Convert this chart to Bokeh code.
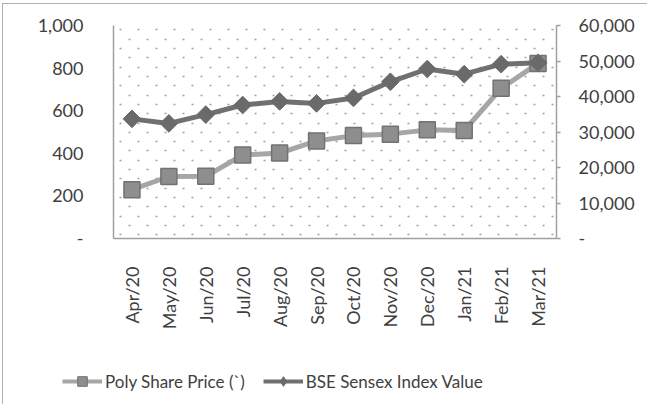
import numpy as np
from bokeh.plotting import figure
from bokeh.models import (Range1d, LinearAxis, FixedTicker, NumeralTickFormatter,
                          Legend, LegendItem, ColumnDataSource, Grid)
from bokeh.embed import file_html
from bokeh.resources import INLINE

months = ["Apr/20", "May/20", "Jun/20", "Jul/20", "Aug/20", "Sep/20",
          "Oct/20", "Nov/20", "Dec/20", "Jan/21", "Feb/21", "Mar/21"]
poly_price = [229, 291, 292, 392, 401, 458, 483, 490, 510, 507, 705, 822]
sensex = [33700, 32420, 34900, 37600, 38620, 38060, 39600, 44150, 47750, 46280, 49100, 49500]
left_ticks = [0, 200, 400, 600, 800, 1000]
right_ticks = [0, 10000, 20000, 30000, 40000, 50000, 60000]
series_names = ["Poly Share Price (`)", "BSE Sensex Index Value"]

TEXT = "#404040"
FONT = "Lato"
AXIS = "#a0a0a0"
POLY_LINE, POLY_FILL, POLY_EDGE = "#a6a6a6", "#8e8e8e", "#727272"
SX_LINE, SX_FILL = "#707070", "#6a6a6a"

p = figure(x_range=months, y_range=Range1d(0, 1000), width=645, height=340,
           output_backend="svg", toolbar_location=None,
           min_border_left=110, min_border_right=92, min_border_top=21,
           min_border_bottom=106)
p.styles = {"margin-left": "2px", "margin-top": "3px",
            "border-left": "1px solid #b0b0b0", "border-top": "1px solid #b0b0b0"}
p.outline_line_color = None
p.background_fill_color = "white"
p.border_fill_color = "white"
p.extra_y_ranges = {"right": Range1d(0, 60000)}

p.xgrid.visible = False
p.ygrid.visible = False

# dotted texture (staggered rows)
rows = np.arange(17, 1000, 43.76)
for k0, off in ((0, 12), (1, 3)):
    g = Grid(dimension=1, ticker=FixedTicker(ticks=list(rows[(22 - k0) % 2::2])),
             grid_line_color="#a0a0a0", grid_line_width=1.7,
             grid_line_dash="2 16", grid_line_dash_offset=off)
    p.add_layout(g)

# left axis
ya = p.yaxis[0]
ya.ticker = FixedTicker(ticks=left_ticks)
ya.formatter = NumeralTickFormatter(format="0,0")
ya.major_label_overrides = {0: "-"}
ya.major_tick_line_color = None
ya.minor_tick_line_color = None
ya.axis_line_color = AXIS
ya.axis_line_width = 1.5
ya.major_label_standoff = 24
ya.major_label_text_font = FONT
ya.major_label_text_font_size = "18px"
ya.major_label_text_color = TEXT

# right axis
ra = LinearAxis(y_range_name="right", ticker=FixedTicker(ticks=right_ticks),
                formatter=NumeralTickFormatter(format="0,0"))
ra.major_label_overrides = {0: "-"}
ra.major_tick_line_color = AXIS
ra.major_tick_line_width = 1.5
ra.major_tick_out = 4
ra.major_tick_in = 0
ra.minor_tick_line_color = None
ra.axis_line_color = AXIS
ra.axis_line_width = 1.5
ra.major_label_standoff = 18
ra.major_label_text_font = FONT
ra.major_label_text_font_size = "18px"
ra.major_label_text_color = TEXT
p.add_layout(ra, "right")

# x axis
xa = p.xaxis[0]
xa.major_label_orientation = np.pi / 2
xa.major_tick_line_color = None
xa.minor_tick_line_color = None
xa.axis_line_color = AXIS
xa.axis_line_width = 1.5
xa.major_label_standoff = 22
xa.major_label_text_font = FONT
xa.major_label_text_font_size = "18px"
xa.major_label_text_color = TEXT

src = ColumnDataSource(dict(m=months, poly=poly_price, sx=sensex))

p.line("m", "poly", source=src, line_color=POLY_LINE, line_width=5)
p.scatter("m", "poly", source=src, marker="square", size=16,
          fill_color=POLY_FILL, line_color=POLY_EDGE, line_width=1.5)
p.line("m", "sx", source=src, y_range_name="right", line_color=SX_LINE, line_width=5)
p.scatter("m", "sx", source=src, y_range_name="right", marker="square", angle=np.pi / 4,
          size=12.5, fill_color=SX_FILL, line_color=SX_FILL, line_width=1)

# legend strip (separate root below the chart)
q = figure(width=645, height=61, x_range=Range1d(0, 1), y_range=Range1d(0, 1),
           output_backend="svg", toolbar_location=None,
           x_axis_location=None, y_axis_location=None, min_border=0)
q.styles = {"margin-left": "2px", "border-left": "1px solid #b0b0b0"}
q.outline_line_color = None
q.grid.visible = False
q.background_fill_color = "white"
q.border_fill_color = "white"
proxy = ColumnDataSource(dict(x=[-5], y=[-5]))  # off-screen proxy for legend swatches
ql1 = q.line("x", "y", source=proxy, line_color=POLY_LINE, line_width=4)
qs1 = q.scatter("x", "y", source=proxy, marker="square",
                fill_color=POLY_FILL, line_color=POLY_EDGE, line_width=1)
ql2 = q.line("x", "y", source=proxy, line_color=SX_LINE, line_width=4)
qs2 = q.scatter("x", "y", source=proxy, marker="diamond",
                fill_color=SX_FILL, line_color=SX_FILL)
legend = Legend(items=[LegendItem(label=series_names[0], renderers=[ql1, qs1]),
                       LegendItem(label=series_names[1], renderers=[ql2, qs2])],
                orientation="horizontal", location=(59, 11),
                glyph_width=40, glyph_height=24, label_standoff=3, spacing=18,
                padding=0, margin=0, border_line_color=None,
                background_fill_alpha=0,
                label_text_font=FONT, label_text_font_size="17px",
                label_text_color=TEXT)
q.add_layout(legend, "center")

open("out.html", "w").write(file_html([p, q], INLINE))
